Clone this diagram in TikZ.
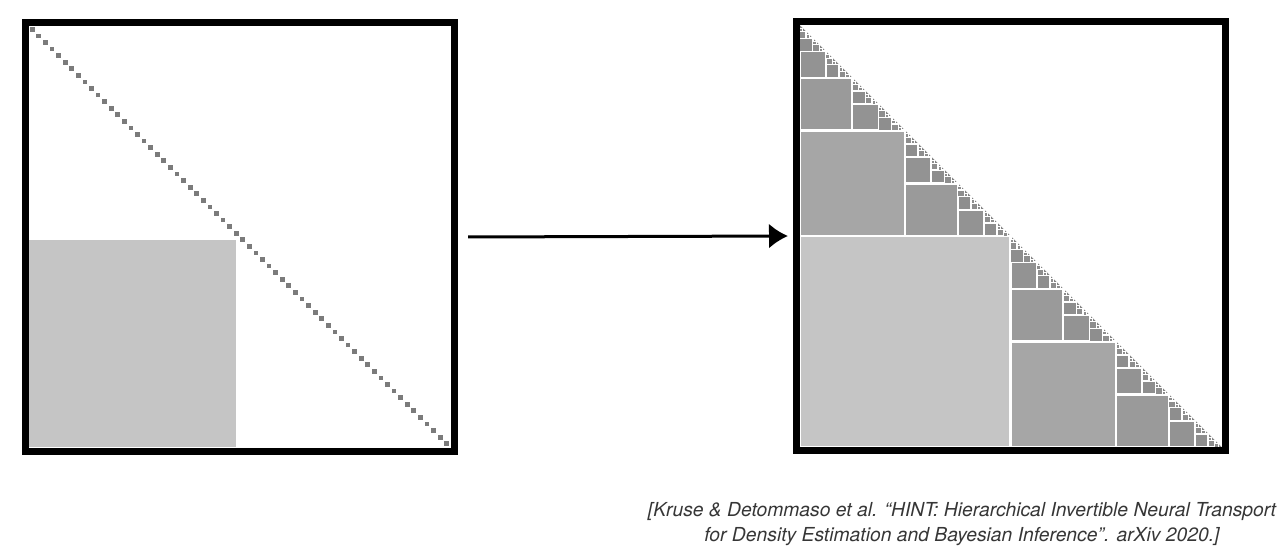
\documentclass[tikz,border=0pt]{standalone}
\usepackage{fontspec}
\usepackage{xcolor}
\newfontfamily\citefont{TeX Gyre Heros}
\usetikzlibrary{arrows.meta, positioning}

\definecolor{lvA}{HTML}{C5C5C5}
\definecolor{lvB}{HTML}{A6A6A6}
\definecolor{lvC}{HTML}{9A9A9A}
\definecolor{lvD}{HTML}{939393}
\definecolor{lvE}{HTML}{8E8E8E}
\definecolor{trigray}{HTML}{858585}
\definecolor{dotgray}{HTML}{7B7B7B}
\definecolor{citegray}{HTML}{363636}

\tikzset{
	frame/.style={draw=black, line width=7pt, minimum size=429pt, inner sep=0pt},
	dotsq/.style={fill=dotgray},
	blocksq/.style={draw=white},
	flow/.style={line width=3pt, -{Latex[length=19pt,width=25pt]}, shorten <=10pt, shorten >=5pt},
	cite/.style={font=\citefont\itshape\fontsize{19.3}{25}\selectfont, text=citegray, align=center}
}

\begin{document}
\begin{tikzpicture}[x=1pt, y=-1pt]
	\useasboundingbox (0,0) rectangle (1282,550);
	% left: dense mask
	\begin{scope}[shift={(29,26)}]
		\def\side{421}
		\pgfmathsetmacro{\cell}{\side/64}
		\fill[lvA] (0,214) rectangle (207,\side);
		\foreach \i in {0,...,63}
			\fill[dotsq] ({\cell*(\i+0.14)},{\cell*(\i+0.14)}) rectangle ++({0.72*\cell},{0.72*\cell});
	\end{scope}
	% right: recursive blocks
	\begin{scope}[shift={(799.5,25)}]
		\def\side{422}
		\fill[trigray] (0,0) -- (0,\side) -- (\side,\side) -- cycle;
		\foreach \k/\tone/\gap in {1/lvA/2.8, 2/lvB/2.8, 3/lvC/2.5, 4/lvD/2.1, 5/lvE/1.7, 6/lvE/1.3, 7/lvE/0.9} {
			\pgfmathsetmacro{\w}{\side/2^(\k-1)}
			\pgfmathtruncatemacro{\n}{2^(\k-1)-1}
			\foreach \i in {0,...,\n}
				\filldraw[blocksq, fill=\tone, line width=\gap pt] ({\w*\i},{\w*\i+\w/2}) rectangle ++({\w/2},{\w/2});
		}
	\end{scope}
	\node[frame] (dense) at (240,237) {};
	\node[frame] (hint) at (1011,236) {};
	\draw[flow] (dense.east) -- (hint.west);
	\node[cite] (ref) at (962,524) {[Kruse \& Detommaso et al. “HINT: Hierarchical Invertible Neural Transport\\for Density Estimation and Bayesian Inference”. arXiv 2020.]};
\end{tikzpicture}
\end{document}
